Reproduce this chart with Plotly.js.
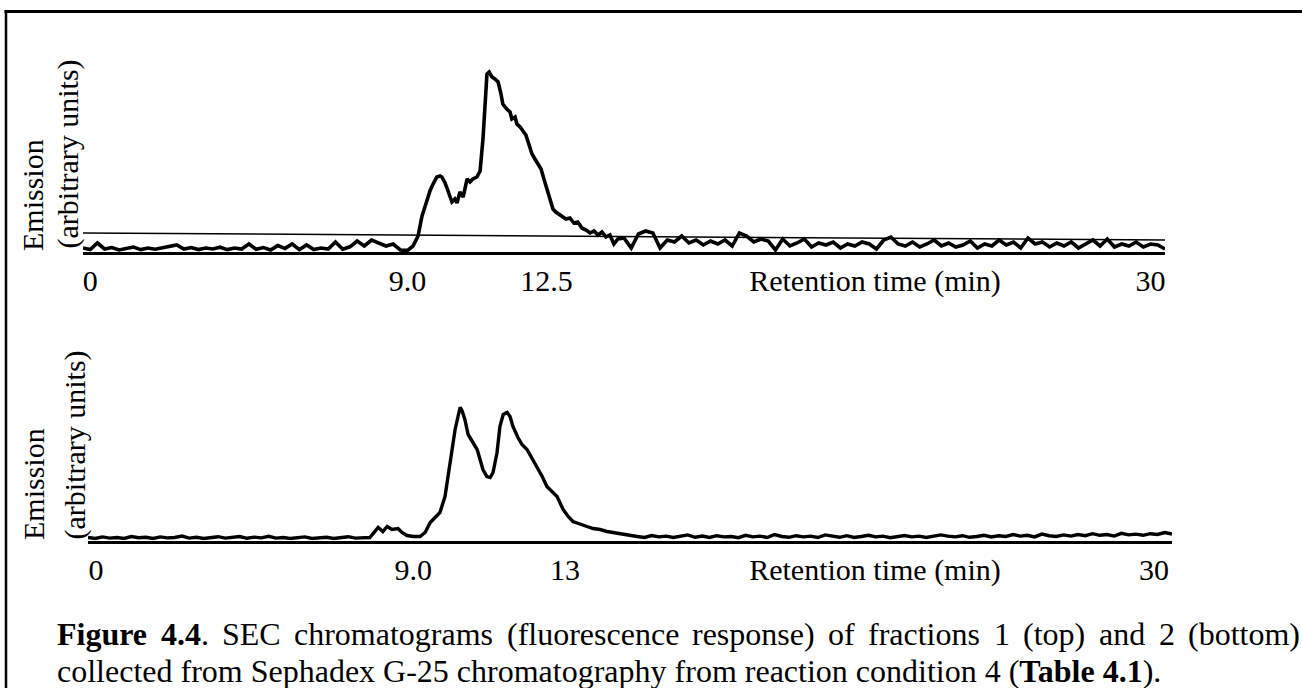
<!DOCTYPE html>
<html>
<head>
<meta charset="utf-8">
<script src="https://cdn.plot.ly/plotly-3.0.1.min.js"></script>
<style>
  html, body { margin: 0; padding: 0; background: #fff; }
  #chart { width: 1302px; height: 688px; }
</style>
</head>
<body>
<div id="chart"></div>
<script>
// ---------------- DATA ----------------
// Fraction 1 (top panel): [retention time (min), emission (a.u.)]
const fraction1Signal = [
  [0.0,2.0],[0.2,1.2],[0.4,4.5],[0.6,1.5],[0.8,2.2],[1.0,1.0],[1.2,1.8],[1.4,2.5],[1.6,1.2],[1.8,2.0],
  [2.0,1.4],[2.2,2.2],[2.4,3.0],[2.6,3.5],[2.8,1.5],[3.0,2.2],[3.2,1.2],[3.4,2.0],[3.6,1.5],[3.8,2.4],
  [4.0,1.2],[4.2,2.0],[4.4,1.5],[4.6,4.0],[4.8,1.4],[5.0,2.2],[5.2,1.0],[5.4,3.2],[5.6,1.8],[5.8,4.0],
  [6.0,1.2],[6.2,3.5],[6.4,1.2],[6.6,2.0],[6.8,1.5],[7.0,5.0],[7.2,1.4],[7.4,2.6],[7.6,5.5],[7.8,3.0],
  [8.0,6.0],[8.2,4.5],[8.4,3.0],[8.6,4.0],[8.8,1.0],[9.0,0.8],
  [9.15,3],[9.29,8],[9.34,12.5],[9.40,18],[9.48,22.5],[9.54,26.5],[9.62,30.5],[9.68,33],[9.76,35.5],[9.81,37.5],
  [9.90,38],[9.95,37.5],[10.04,34.5],[10.09,31.5],[10.17,28],[10.23,25],[10.31,26.5],[10.37,24.5],[10.45,30],[10.54,27.5],
  [10.59,32.5],[10.65,36.5],[10.73,35],[10.81,36.5],[10.92,37.5],[11.01,40.5],[11.09,56.5],[11.15,74],[11.20,89],[11.26,90],
  [11.34,87.5],[11.42,86.5],[11.51,85],[11.59,79],[11.64,74],[11.75,71.5],[11.84,70],[11.89,66.5],[11.98,67.5],[12.03,64],
  [12.12,62.5],[12.20,60.5],[12.28,58.5],[12.36,54],[12.45,49],[12.53,46.5],[12.61,44],[12.70,41.5],[12.78,36.5],[12.86,31.5],
  [12.95,26.5],[13.03,21.5],[13.11,20],[13.20,19],[13.28,18],[13.39,16.5],[13.50,17],[13.61,14.5],[13.72,15],[13.83,12],
  [13.95,11],[14.06,9.5],[14.17,10.5],[14.28,8.5],[14.39,10],[14.50,7.5],[14.61,8.5],[14.72,4],[14.83,6.5],
  [15.0,7],[15.2,2],[15.4,9],[15.6,10.5],[15.8,9.5],[16.0,2],[16.2,6],[16.4,5],[16.6,8],[16.8,4.5],
  [17.0,6],[17.2,3.5],[17.4,5.5],[17.6,4],[17.8,6],[18.0,3],[18.2,9.5],[18.4,8],[18.6,5],[18.8,6.5],
  [19.0,5.5],[19.2,1],[19.4,6.5],[19.6,3],[19.8,4.5],[20.0,6.5],[20.2,2.5],[20.4,4.5],[20.6,3.5],[20.8,5],
  [21.0,2],[21.2,4],[21.4,3],[21.6,5],[21.8,4],[22.0,1.5],[22.2,6],[22.4,7.5],[22.6,4],[22.8,3],
  [23.0,5],[23.2,2.5],[23.4,4],[23.6,6],[23.8,3],[24.0,4.5],[24.2,2.5],[24.4,3.5],[24.6,5.5],[24.8,2],
  [25.0,4],[25.2,3],[25.4,6],[25.6,3.5],[25.8,5],[26.0,2],[26.2,7],[26.4,4],[26.6,5],[26.8,2.5],
  [27.0,4.5],[27.2,3],[27.4,5],[27.6,2],[27.8,4],[28.0,6],[28.2,3],[28.4,6.5],[28.6,2.5],[28.8,4],
  [29.0,3],[29.2,5],[29.4,2.5],[29.6,4],[29.8,3.5],[30.0,1.5]
];
// thin baseline drawn across the top chromatogram
const fraction1BaselineTime = [0, 30];
const fraction1BaselineValue = [9.5, 6.0];

// Fraction 2 (bottom panel)
const fraction2Signal = [
  [0.0,1.5],[0.2,1.0],[0.4,1.8],[0.6,1.2],[0.8,1.5],[1.0,1.0],[1.2,2.0],[1.4,1.4],[1.6,1.6],[1.8,1.0],
  [2.0,1.8],[2.2,1.3],[2.4,1.5],[2.6,2.2],[2.8,1.2],[3.0,1.6],[3.2,1.0],[3.4,1.5],[3.6,1.9],[3.8,1.2],
  [4.0,1.4],[4.2,2.0],[4.4,1.1],[4.6,1.7],[4.8,1.3],[5.0,2.1],[5.2,1.2],[5.4,1.5],[5.6,1.0],[5.8,1.4],
  [6.0,1.8],[6.2,1.0],[6.4,1.3],[6.6,1.6],[6.8,1.0],[7.0,1.4],[7.2,1.9],[7.4,1.2],[7.6,1.5],
  [7.80,1.5],[8.03,6.5],[8.16,4.5],[8.28,7],[8.41,5.5],[8.58,6],[8.69,4],[8.83,2.5],[9.00,2],[9.19,2],
  [9.33,4],[9.47,9],[9.60,11.5],[9.74,14],[9.88,22],[10.02,39],[10.16,55.5],[10.24,62],[10.30,66.5],[10.35,65],
  [10.43,60.5],[10.52,53],[10.63,49.5],[10.77,45.5],[10.93,35.5],[11.04,32],[11.13,31.5],[11.21,34],[11.32,44],[11.40,57],
  [11.49,63],[11.60,64],[11.68,62],[11.76,57],[11.90,51.5],[12.01,48],[12.15,45.5],[12.29,41],[12.43,37],[12.57,32],
  [12.70,27],[12.84,24.5],[12.98,22],[13.15,15.5],[13.29,12],[13.42,9.5],[13.62,8],[13.81,7],[13.98,6],[14.17,5.5],
  [14.36,4.5],[14.53,4],[14.73,3],[14.92,2.5],[15.08,2],
  [15.2,2.0],[15.4,1.5],[15.6,2.5],[15.8,1.8],[16.0,2.2],[16.2,1.5],[16.4,2.0],[16.6,2.8],[16.8,1.6],[17.0,2.2],
  [17.2,1.5],[17.4,2.4],[17.6,1.8],[17.8,2.0],[18.0,1.4],[18.2,2.6],[18.4,1.8],[18.6,2.2],[18.8,1.5],[19.0,3.0],
  [19.2,2.0],[19.4,1.6],[19.6,2.4],[19.8,1.8],[20.0,2.2],[20.2,1.5],[20.4,2.8],[20.6,2.0],[20.8,1.6],[21.0,2.4],
  [21.2,1.5],[21.4,2.0],[21.6,2.6],[21.8,1.8],[22.0,2.2],[22.2,1.4],[22.4,2.0],[22.6,2.5],[22.8,1.8],[23.0,2.2],
  [23.2,1.5],[23.4,2.0],[23.6,2.8],[23.8,2.2],[24.0,1.8],[24.2,2.4],[24.4,1.6],[24.6,2.0],[24.8,2.6],[25.0,1.8],
  [25.2,2.4],[25.4,2.0],[25.6,3.0],[25.8,2.2],[26.0,2.6],[26.2,1.8],[26.4,3.2],[26.6,2.4],[26.8,2.0],[27.0,2.8],
  [27.2,2.2],[27.4,3.0],[27.6,2.4],[27.8,3.4],[28.0,2.6],[28.2,3.0],[28.4,2.2],[28.6,3.6],[28.8,2.8],[29.0,3.2],
  [29.2,2.6],[29.4,3.4],[29.6,3.0],[29.8,4.0],[30.0,3.2]
];

// tick labels (positions in minutes, texts as printed)
const topTickValues = [0.2, 9.0, 12.85, 21.96, 29.6];
const topTickLabels = ["0", "9.0", "12.5", "Retention time (min)", "30"];
const bottomTickValues = [0.22, 9.0, 13.2, 21.78, 29.5];
const bottomTickLabels = ["0", "9.0", "13", "Retention time (min)", "30"];

const yLabelLine1 = "Emission";
const yLabelLine2 = "(arbitrary units)";

const captionLine1Words = [
  [["Figure", true]], [["4.4", true], [".", false]], [["SEC", false]], [["chromatograms", false]],
  [["(fluorescence", false]], [["response)", false]], [["of", false]], [["fractions", false]],
  [["1", false]], [["(top)", false]], [["and", false]], [["2", false]], [["(bottom)", false]]
];
const captionLine2 = "collected from Sephadex G-25 chromatography from reaction condition 4 (<b>Table 4.1</b>).";

// ---------------- LAYOUT ----------------
const W = 1302, H = 688;
const FONT = '"Liberation Serif", "Times New Roman", serif';
const px = v => v / W;
const py = v => 1 - v / H;

const traces = [
  { x: fraction1Signal.map(p => p[0]), y: fraction1Signal.map(p => p[1]), xaxis: 'x', yaxis: 'y',
    mode: 'lines', line: { color: '#000', width: 3.6 }, hoverinfo: 'skip' },
  { x: fraction1BaselineTime, y: fraction1BaselineValue, xaxis: 'x', yaxis: 'y',
    mode: 'lines', line: { color: '#000', width: 1.5 }, hoverinfo: 'skip' },
  { x: fraction2Signal.map(p => p[0]), y: fraction2Signal.map(p => p[1]), xaxis: 'x2', yaxis: 'y2',
    mode: 'lines', line: { color: '#000', width: 3.4 }, hoverinfo: 'skip' }
];

function xAxis(domain, anchor, vals, labels) {
  return {
    domain: domain, anchor: anchor, range: [0, 30], showline: true, linewidth: 3, linecolor: '#000',
    showgrid: false, zeroline: false, ticks: '', tickmode: 'array', tickvals: vals, ticktext: labels,
    tickfont: { family: FONT, size: 30, color: '#000' }, fixedrange: true
  };
}
function yAxis(domain, anchor) {
  return { domain: domain, anchor: anchor, range: [0, 100], visible: false, fixedrange: true };
}

// caption line 1: justified across the line width
const ctx = document.createElement('canvas').getContext('2d');
const CAP_SIZE = 32;
function wordWidth(segs) {
  let w = 0;
  segs.forEach(s => { ctx.font = (s[1] ? 'bold ' : '') + CAP_SIZE + 'px "Liberation Serif"'; w += ctx.measureText(s[0]).width; });
  return w;
}
const capLeft = 57, capRight = 1300;
const widths = captionLine1Words.map(wordWidth);
const total = widths.reduce((a, b) => a + b, 0);
const gap = (capRight - capLeft - total) / (captionLine1Words.length - 1);
const annotations = [];
let cx = capLeft;
captionLine1Words.forEach((segs, i) => {
  const html = segs.map(s => s[1] ? '<b>' + s[0] + '</b>' : s[0]).join('');
  annotations.push({ xref: 'paper', yref: 'paper', x: px(cx - 2), y: py(634), xanchor: 'left', yanchor: 'middle',
    text: html, showarrow: false, font: { family: FONT, size: CAP_SIZE, color: '#000' } });
  cx += widths[i] + gap;
});
annotations.push({ xref: 'paper', yref: 'paper', x: px(capLeft - 2), y: py(671), xanchor: 'left', yanchor: 'middle',
  text: captionLine2, showarrow: false, font: { family: FONT, size: CAP_SIZE, color: '#000' } });

// y-axis labels (rotated, two lines, bottom aligned)
[[32, 253, yLabelLine1], [67, 251, yLabelLine2], [33, 542, yLabelLine1], [74, 542, yLabelLine2]].forEach(a => {
  annotations.push({ xref: 'paper', yref: 'paper', x: px(a[0]), y: py(a[1]), xanchor: 'center', yanchor: 'bottom',
    textangle: -90, text: a[2], showarrow: false, font: { family: FONT, size: 30, color: '#000' } });
});

const layout = {
  width: W, height: H, margin: { l: 0, r: 0, t: 0, b: 0 },
  paper_bgcolor: '#fff', plot_bgcolor: 'rgba(0,0,0,0)', showlegend: false,
  font: { family: FONT, size: 30, color: '#000' },
  xaxis: xAxis([px(83), px(1165)], 'y', topTickValues, topTickLabels),
  yaxis: yAxis([py(252), py(52)], 'x'),
  xaxis2: xAxis([px(88), px(1172)], 'y2', bottomTickValues, bottomTickLabels),
  yaxis2: yAxis([py(540.5), py(340.5)], 'x2'),
  annotations: annotations,
  shapes: [
    { type: 'line', xref: 'paper', yref: 'paper', x0: px(4.5), x1: 1, y0: py(11.5), y1: py(11.5), line: { color: '#000', width: 3 } },
    { type: 'line', xref: 'paper', yref: 'paper', x0: px(6), x1: px(6), y0: py(10), y1: 0, line: { color: '#000', width: 2.5 } }
  ]
};

Plotly.newPlot('chart', traces, layout, { staticPlot: true, displayModeBar: false });
</script>
</body>
</html>
